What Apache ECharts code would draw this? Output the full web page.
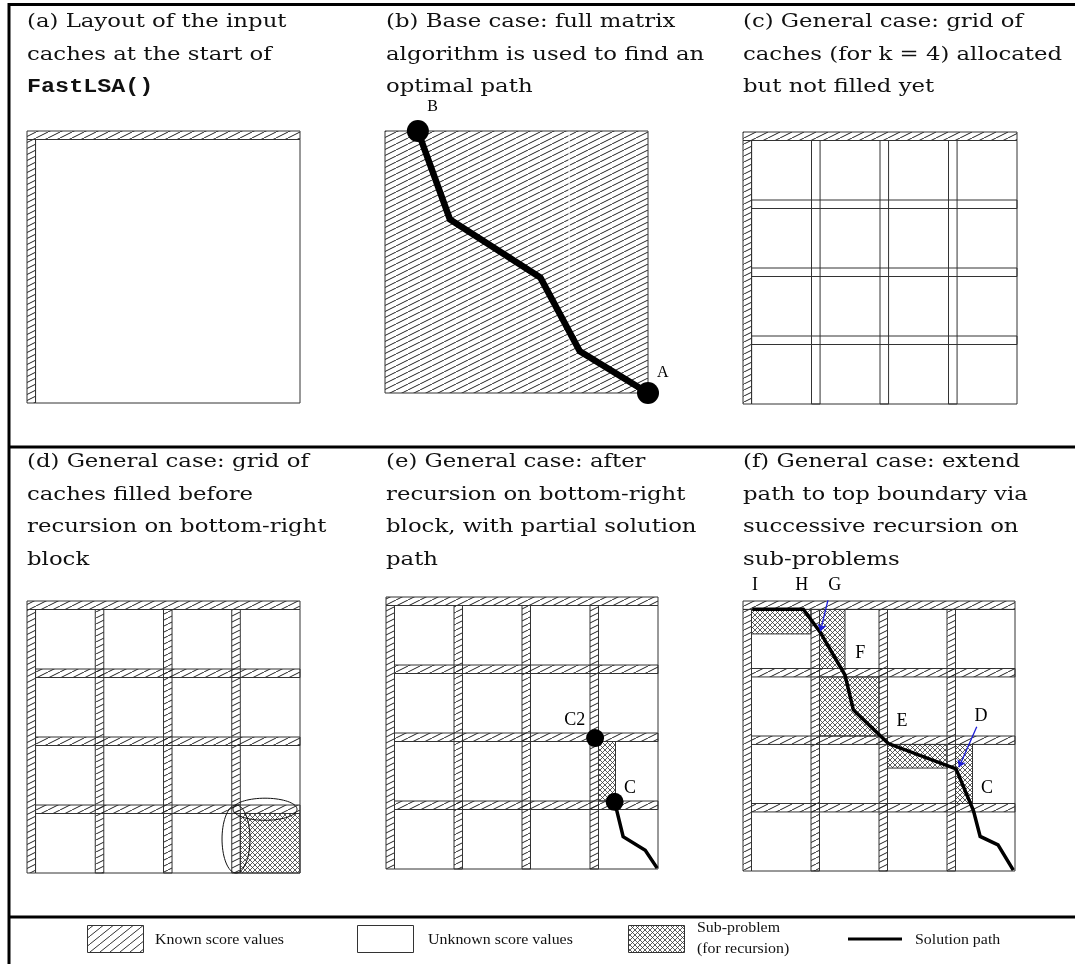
<!DOCTYPE html>
<html lang="en">
<head>
<meta charset="UTF-8">
<title>FastLSA panels</title>
<script src="https://cdn.jsdelivr.net/npm/echarts@6/dist/echarts.min.js"></script>
<style>
    * { margin: 0; padding: 0; }
    #chart { width: 1075px; height: 964px; }
</style>
</head>
<body>
<div id="chart"></div>
<script>
    // every panel is a 32 x 32 box in matrix units
    const SIZE = 32
    const STRIP = 1
    const cachePos = [8, 16, 24]          // row / column caches for k = 4
    const UNKNOWN = 0, KNOWN = 1, SUB = 2, EMPTY = 3

    // sub-problems [x0, y0, x1, y1]
    const subD = [[25, 25, 32, 32]]
    const subE = [[25, 17, 27, 24]]
    const subF = [[1, 1, 8, 3.9], [9, 1, 12, 8], [9, 9, 16, 16], [17, 17, 24, 19.8], [25, 17, 27, 24]]

    // solution paths
    const pathB = [[4, 0], [7.9, 10.8], [18.9, 17.9], [23.7, 26.9], [32, 32]]
    const pathE = [[26.9, 24.1], [27.9, 28.2], [30.5, 29.8], [31.9, 31.9]]
    const pathF = [[1.09, 0.98], [7.09, 0.98], [9.06, 3.67], [12.0, 8.77], [12.98, 12.9], [17.1, 16.9],
        [25.06, 19.9], [27.1, 24.8], [27.9, 27.9], [30.0, 28.9], [31.8, 31.9]]

    const dotsB = [[4, 0], [32, 32]]
    const dotsE = [[24.6, 16.6], [26.9, 24.1]]

    const labelsB = [['B', 5.8, -2.9], ['A', 33.8, 29.5]]
    const labelsE = [['C2', 22.2, 14.5], ['C', 28.7, 22.5]]
    const labelsF = [['I', 1.4, -1.9], ['H', 6.9, -1.9], ['G', 10.8, -1.9], ['F', 13.8, 6.2],
        ['E', 18.7, 14.3], ['D', 28, 13.7], ['C', 28.7, 22.2]]

    const ellipsesD = [[27.9, 24.5, 3.75, 1.3], [24.5, 28.0, 1.64, 4.0]]   // cx, cy, rx, ry
    const arrowsF = [[[10.2, -0.95], [9.1, 3.6]], [[27.5, 14.9], [25.4, 19.7]]]
    const seamB = 22.4

    const titles = [
        '(a) Layout of the input\ncaches at the start of\n{tt|FastLSA()}',
        '(b) Base case: full matrix\nalgorithm is used to find an\noptimal path',
        '(c) General case: grid of\ncaches (for k = 4) allocated\nbut not filled yet',
        '(d) General case: grid of\ncaches filled before\nrecursion on bottom-right\nblock',
        '(e) General case: after\nrecursion on bottom-right\nblock, with partial solution\npath',
        '(f) General case: extend\npath to top boundary via\nsuccessive recursion on\nsub-problems'
    ]
    const legendNames = ['Known score values', 'Unknown score values', 'Sub-problem\n(for recursion)', 'Solution path']

    // ------------------------------------------------------------------
    function tile(w, h, cross, color, lw) {
        const c = document.createElement('canvas')
        c.width = w; c.height = h
        const ctx = c.getContext('2d')
        ctx.strokeStyle = color
        ctx.lineWidth = lw
        ctx.beginPath()
        for (const dx of [-w, 0, w]) {
            ctx.moveTo(dx, h); ctx.lineTo(dx + w, 0)
            if (cross) { ctx.moveTo(dx, 0); ctx.lineTo(dx + w, h) }
        }
        ctx.stroke()
        return c
    }
    const hatch = { image: tile(12, 6, false, '#222', 1), repeat: 'repeat' }
    const crossHatch = { image: tile(5, 5, true, '#333', 0.8), repeat: 'repeat' }
    const legendHatch = { image: tile(10, 8, false, '#333', 1), repeat: 'repeat' }

    function gridCells(stripKind) {
        const r = [[STRIP, STRIP, SIZE, SIZE, UNKNOWN]]
        cachePos.forEach(p => r.push([p, STRIP, p + STRIP, SIZE, stripKind]))
        cachePos.forEach(p => r.push([STRIP, p, SIZE, p + STRIP, stripKind]))
        r.push([0, 0, SIZE, STRIP, KNOWN], [0, STRIP, STRIP, SIZE, KNOWN])
        return r
    }
    const withSubs = (cells, subs) => cells.concat(subs.map(s => s.concat(SUB)))

    const panels = [
        { left: 27, top: 131, width: 273, height: 272,
          rects: [[STRIP, STRIP, SIZE, SIZE, UNKNOWN], [0, 0, SIZE, STRIP, KNOWN], [0, STRIP, STRIP, SIZE, KNOWN]] },
        { left: 385, top: 131, width: 263, height: 262, rects: [[0, 0, SIZE, SIZE, KNOWN]],
          path: pathB, pathWidth: 6.5, dots: dotsB, dotSize: 22, labels: labelsB, labelSize: 16 },
        { left: 743, top: 132, width: 274, height: 272, rects: gridCells(EMPTY) },
        { left: 27, top: 601, width: 273, height: 272, rects: withSubs(gridCells(KNOWN), subD), ellipses: ellipsesD },
        { left: 386, top: 597, width: 272, height: 272, rects: withSubs(gridCells(KNOWN), subE),
          path: pathE, pathWidth: 3.5, dots: dotsE, dotSize: 18, labels: labelsE, labelSize: 18 },
        { left: 743, top: 601, width: 272, height: 270, rects: withSubs(gridCells(KNOWN), subF),
          path: pathF, pathWidth: 3.5, labels: labelsF, labelSize: 18, arrows: arrowsF }
    ]
    const titlePos = [[27, 6], [386, 6], [743, 6], [27, 446], [386, 446], [743, 446]]

    function fillOf(kind) {
        if (kind === KNOWN) return hatch
        if (kind === SUB) return crossHatch
        if (kind === EMPTY) return 'transparent'
        return '#fff'
    }

    const series = []
    panels.forEach((p, i) => {
        const ax = { xAxisIndex: i, yAxisIndex: i }
        series.push(Object.assign({
            type: 'custom', clip: false, z: 2, silent: true,
            data: p.rects,
            renderItem: function (params, api) {
                const a = api.coord([api.value(0), api.value(1)])
                const b = api.coord([api.value(2), api.value(3)])
                return {
                    type: 'rect',
                    shape: { x: a[0], y: a[1], width: b[0] - a[0], height: b[1] - a[1] },
                    style: { fill: fillOf(api.value(4)), stroke: '#333', lineWidth: 1 }
                }
            }
        }, ax))
        if (i === 1) {
            series.push(Object.assign({
                type: 'line', z: 3, silent: true, showSymbol: false,
                data: [[seamB, 0.1], [seamB, SIZE - 0.1]],
                lineStyle: { color: '#fff', width: 1.2 }
            }, ax))
        }
        if (p.ellipses) {
            series.push(Object.assign({
                type: 'custom', clip: false, z: 3, silent: true,
                data: p.ellipses,
                renderItem: function (params, api) {
                    const c = api.coord([api.value(0), api.value(1)])
                    const e = api.coord([api.value(0) + api.value(2), api.value(1) + api.value(3)])
                    const rx = e[0] - c[0], ry = e[1] - c[1]
                    const pts = []
                    for (let k = 0; k < 72; k++) {
                        const t = k / 72 * Math.PI * 2
                        pts.push([c[0] + rx * Math.cos(t), c[1] + ry * Math.sin(t)])
                    }
                    return { type: 'polygon', shape: { points: pts }, style: { fill: 'none', stroke: '#111', lineWidth: 1 } }
                }
            }, ax))
        }
        if (p.path) {
            series.push(Object.assign({
                type: 'line', z: 4, silent: true, showSymbol: false, data: p.path,
                lineStyle: { color: '#000', width: p.pathWidth, join: 'miter' }
            }, ax))
        }
        if (p.arrows) {
            series.push(Object.assign({
                type: 'lines', coordinateSystem: 'cartesian2d', z: 5, silent: true,
                symbol: ['none', 'arrow'], symbolSize: 7,
                data: p.arrows.map(a => ({ coords: a })),
                lineStyle: { color: '#1c1cd6', width: 1.3, opacity: 1 }
            }, ax))
        }
        if (p.dots) {
            series.push(Object.assign({
                type: 'scatter', z: 6, silent: true, data: p.dots,
                symbolSize: p.dotSize, itemStyle: { color: '#000', opacity: 1 }
            }, ax))
        }
        if (p.labels) {
            const labels = p.labels
            series.push(Object.assign({
                type: 'custom', clip: false, z: 7, silent: true,
                data: labels.map(l => [l[1], l[2]]),
                renderItem: function (params, api) {
                    const c = api.coord([api.value(0), api.value(1)])
                    return {
                        type: 'text', x: c[0], y: c[1],
                        style: {
                            text: labels[params.dataIndex][0], fill: '#000',
                            font: p.labelSize + 'px "Liberation Serif"',
                            align: 'center', verticalAlign: 'middle'
                        }
                    }
                }
            }, ax))
        }
    })

    const frame = [
        [8, 4.5, 1075, 4.5], [9, 3, 9, 964], [8, 447, 1075, 447], [8, 917, 1075, 917]
    ].map(s => ({
        type: 'line', silent: true,
        shape: { x1: s[0], y1: s[1], x2: s[2], y2: s[3] },
        style: { stroke: '#000', lineWidth: 3 }
    }))

    // panel captions: the source figure is stretched sideways, so the text is too
    const captionGraphics = titles.map((t, i) => ({
        type: 'text', silent: true, x: titlePos[i][0], y: titlePos[i][1], scaleX: 1.2, scaleY: 1,
        style: {
            text: t, fill: '#111', font: '19px "DejaVu Serif"', lineHeight: 32.5, verticalAlign: 'top',
            rich: { tt: { fontFamily: 'Liberation Mono', fontSize: 19.5, fontWeight: 'bold', lineHeight: 32.5, fill: '#111' } }
        }
    }))

    const legendFont = '15px "Liberation Serif"'
    const legendText = (text, x, y) => ({
        type: 'text', silent: true, x: x, y: y, scaleX: 1.06,
        style: { text: text, font: legendFont, fill: '#111', verticalAlign: 'middle', lineHeight: 21 }
    })
    const legendGraphics = [
        { type: 'rect', shape: { x: 87.5, y: 925.5, width: 56, height: 27 }, style: { fill: legendHatch, stroke: '#333', lineWidth: 1 } },
        legendText(legendNames[0], 155, 940),
        { type: 'rect', shape: { x: 357.5, y: 925.5, width: 56, height: 27 }, style: { fill: '#fff', stroke: '#333', lineWidth: 1 } },
        legendText(legendNames[1], 428, 940),
        { type: 'rect', shape: { x: 628.5, y: 925.5, width: 56, height: 27 }, style: { fill: crossHatch, stroke: '#333', lineWidth: 1 } },
        legendText(legendNames[2], 697, 939),
        { type: 'line', shape: { x1: 848, y1: 939, x2: 902, y2: 939 }, style: { stroke: '#000', lineWidth: 3 } },
        legendText(legendNames[3], 915, 940)
    ]

    const chart = echarts.init(document.getElementById('chart'))
    chart.setOption({
        animation: false,
        backgroundColor: '#fff',
        grid: panels.map(p => ({ left: p.left, top: p.top, width: p.width, height: p.height })),
        xAxis: panels.map((p, i) => ({ type: 'value', gridIndex: i, min: 0, max: SIZE, show: false })),
        yAxis: panels.map((p, i) => ({ type: 'value', gridIndex: i, min: 0, max: SIZE, inverse: true, show: false })),
        graphic: frame.concat(captionGraphics, legendGraphics),
        series: series
    })
</script>
</body>
</html>
